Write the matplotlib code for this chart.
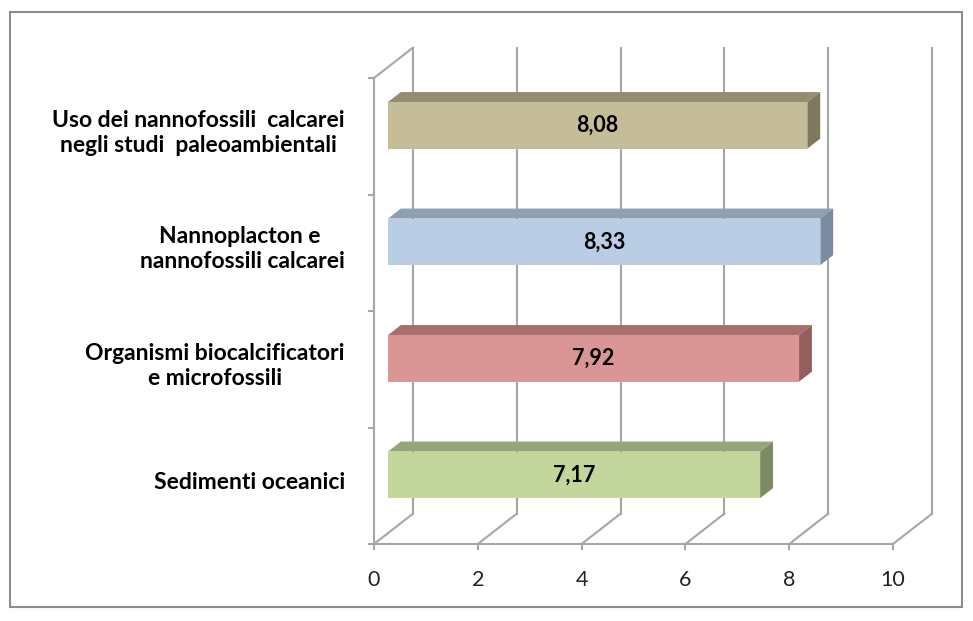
import matplotlib.pyplot as plt
from matplotlib.patches import Polygon, Rectangle

# dati
categorie = ["Sedimenti oceanici",
             "Organismi biocalcificatori\ne microfossili",
             "Nannoplacton e \nnannofossili calcarei",
             "Uso dei nannofossili  calcarei\nnegli studi  paleoambientali"]
valori = [7.17, 7.92, 8.33, 8.08]
x_ticks = [0, 2, 4, 6, 8, 10]

# colori: fronte, sopra, lato
col_fronte = ["#C3D69B", "#D99694", "#B9CDE5", "#C4BD97"]
col_sopra = ["#97A57A", "#A86F6D", "#8E9FB4", "#958D70"]
col_lato = ["#7E8B62", "#955F5D", "#7C8BA0", "#7E785C"]

# effetto 3D (in unita' dei dati)
DX, DY = 0.75, 0.26
Z1, Z2 = 0.36, 0.69
H = 0.2
grid_col = "#A6A6A6"

plt.rcParams['font.family'] = ['Lato', 'DejaVu Sans']

fig = plt.figure(figsize=(9.73, 6.21), dpi=100)
ax = fig.add_axes([374 / 973, (621 - 544) / 621, 519 / 973, 466 / 621])
ax.set_xlim(0, 10)
ax.set_ylim(0, 4)
ax.axis('off')

n = len(categorie)

# pareti e griglia
for t in x_ticks:
    ax.plot([t + DX, t + DX], [DY, n + DY], color=grid_col, lw=1.5, clip_on=False, zorder=1)
    ax.plot([t, t + DX], [0, DY], color=grid_col, lw=1.5, clip_on=False, zorder=1)
    ax.plot([t, t], [0, -0.04], color=grid_col, lw=1.5, clip_on=False, zorder=1)
    ax.text(t, -0.31, str(t), ha='center', va='center', fontsize=15.5, color="#222222")
ax.plot([0, 10], [0, 0], color=grid_col, lw=1.5, clip_on=False, zorder=1)
ax.plot([0, 0], [0, n], color=grid_col, lw=1.5, clip_on=False, zorder=1)
ax.plot([0, DX], [n, n + DY], color=grid_col, lw=1.5, clip_on=False, zorder=1)
for k in range(n + 1):
    ax.plot([-0.1, 0], [k, k], color=grid_col, lw=1.5, clip_on=False, zorder=1)

# barre
for i, (cat, v) in enumerate(zip(categorie, valori)):
    c = i + 0.5
    x0, x1 = Z1 * DX, v + Z1 * DX
    y0, y1 = c - H + Z1 * DY, c + H + Z1 * DY
    fronte = Polygon([(x0, y0), (x1, y0), (x1, y1), (x0, y1)], closed=True,
                     fc=col_fronte[i], ec='none', zorder=3, clip_on=False)
    sopra = Polygon([(x0, y1), (x1, y1), (v + Z2 * DX, c + H + Z2 * DY),
                     (Z2 * DX, c + H + Z2 * DY)], closed=True,
                    fc=col_sopra[i], ec='none', zorder=2, clip_on=False)
    lato = Polygon([(x1, y0), (x1, y1), (v + Z2 * DX, c + H + Z2 * DY),
                    (v + Z2 * DX, c - H + Z2 * DY)], closed=True,
                   fc=col_lato[i], ec='none', zorder=2, clip_on=False)
    ax.add_patch(sopra)
    ax.add_patch(lato)
    ax.add_patch(fronte)
    ax.text((x0 + x1) / 2, (y0 + y1) / 2, f"{v:.2f}".replace('.', ','),
            ha='center', va='center', fontsize=15.5, fontweight='bold', zorder=4)
    ax.text(-0.56, c + 0.03, cat, ha='right', va='center', multialignment='center',
            fontsize=16.5, fontweight='bold', linespacing=1.22)

# cornice
fig.patches.append(Rectangle((10 / 973, 1 - 607 / 621), 952 / 973, 595 / 621,
                             transform=fig.transFigure, fill=False,
                             ec="#8C8C8C", lw=1.5))

fig.savefig("out.png", dpi=100)
